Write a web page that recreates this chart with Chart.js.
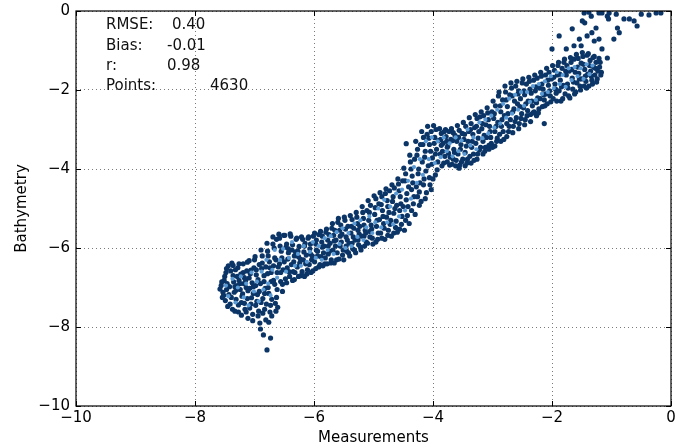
<!DOCTYPE html>
<html>
<head>
<meta charset="utf-8">
<script src="https://cdn.jsdelivr.net/npm/chart.js@4.4.1/dist/chart.umd.min.js"></script>
<style>
html,body{margin:0;padding:0;background:#fff;}
#wrap{width:675px;height:447px;}
</style>
</head>
<body>
<div id="wrap"><canvas id="chart" width="675" height="447"></canvas></div>
<script>
// axis ticks
const xTicks = [-10, -8, -6, -4, -2, 0];
const yTicks = [-10, -8, -6, -4, -2, 0];

// stats box
const statNames = ['RMSE:', 'Bias:', 'r:', 'Points:'];
const statValues = ['0.40', '-0.01', '0.98', '4630'];

const westCluster = [
  [-7.56,-6.95],[-7.53,-7.12],[-7.51,-6.82],[-7.54,-7.25],
  [-7.48,-6.62],[-7.46,-6.9],[-7.43,-7.18],[-7.41,-7.42],[-7.47,-7.05],[-7.44,-6.45],
  [-7.38,-6.38],[-7.36,-6.7],[-7.33,-6.98],[-7.31,-7.3],[-7.37,-7.55],[-7.34,-7.12],[-7.32,-6.55],
  [-7.28,-6.5],[-7.26,-6.82],[-7.24,-7.05],[-7.22,-7.38],[-7.27,-7.62],[-7.23,-6.66],[-7.21,-7.22],[-7.29,-6.95],
  [-7.19,-6.4],[-7.17,-6.75],[-7.14,-7.0],[-7.12,-7.28],[-7.16,-7.55],[-7.11,-7.78],[-7.18,-6.9],[-7.13,-6.58],
  [-7.09,-6.32],[-7.07,-6.65],[-7.04,-6.88],[-7.02,-7.15],[-7.06,-7.42],[-7.03,-7.68],[-7.01,-6.5],[-7.08,-7.02],
  [-6.99,-6.22],[-6.97,-6.55],[-6.94,-6.8],[-6.92,-7.1],[-6.96,-7.35],[-6.93,-7.6],[-6.91,-7.9],[-6.98,-6.95],
  [-6.89,-6.05],[-6.87,-6.38],[-6.84,-6.7],[-6.82,-7.02],[-6.86,-7.28],[-6.83,-7.55],[-6.81,-7.82],[-6.88,-6.52],[-6.85,-8.2],
  [-6.73,-8.28],[-6.79,-8.58],
  [-6.79,-5.88],[-6.77,-6.2],[-6.74,-6.5],[-6.72,-6.85],[-6.76,-7.15],[-6.73,-7.45],[-6.71,-7.72],[-6.78,-6.65],
  [-6.69,-5.72],[-6.67,-6.0],[-6.64,-6.3],[-6.62,-6.62],[-6.66,-6.92],[-6.63,-7.25],[-6.61,-7.5],[-6.68,-6.45],
  [-7.58,-7.04],[-7.55,-6.86],[-7.52,-7.2],[-7.5,-6.72],[-7.49,-7.33],[-7.47,-6.52],[-7.45,-7.48],[-7.42,-6.98],
  [-7.4,-6.58],[-7.39,-7.25],[-7.36,-6.44],[-7.35,-6.86],[-7.33,-7.6],[-7.31,-7.07],[-7.29,-6.72],[-7.27,-7.44],
  [-7.26,-6.4],[-7.24,-6.9],[-7.22,-7.7],[-7.2,-7.16],[-7.19,-6.62],[-7.17,-7.4],[-7.15,-6.82],[-7.14,-7.62],
  [-7.12,-6.36],[-7.11,-7.08],[-7.09,-6.76],[-7.08,-7.52],[-7.06,-6.56],[-7.05,-7.26],[-7.03,-7.84],[-7.02,-6.98],
  [-7.0,-6.3],[-6.98,-7.45],[-6.97,-6.68],[-6.95,-7.18],[-6.94,-7.72],[-6.92,-6.42],[-6.9,-6.9],[-6.89,-7.38],
  [-6.87,-6.2],[-6.86,-7.65],[-6.84,-6.85],[-6.83,-7.15],[-6.81,-6.48],[-6.8,-7.42],[-6.78,-6.08],[-6.77,-7.0],
  [-6.75,-6.35],[-6.74,-7.62],[-6.72,-6.62],[-6.71,-7.3],[-6.69,-5.9],[-6.68,-6.82],[-6.66,-6.25],[-6.65,-7.4],
  [-6.63,-5.78],[-6.62,-7.05],[-6.6,-6.48],[-6.64,-7.6],[-6.76,-7.88],[-6.9,-8.05]
];

const shelfBand = [
  [-6.59,-5.65],[-6.57,-5.95],[-6.54,-6.25],[-6.52,-6.55],[-6.56,-6.85],[-6.53,-7.1],[-6.58,-6.4],
  [-6.49,-5.68],[-6.47,-5.98],[-6.44,-6.28],[-6.42,-6.6],[-6.46,-6.88],[-6.43,-6.12],
  [-6.39,-5.7],[-6.37,-6.05],[-6.34,-6.35],[-6.32,-6.62],[-6.36,-6.82],[-6.33,-6.2],
  [-6.29,-5.75],[-6.27,-6.08],[-6.24,-6.38],[-6.22,-6.7],[-6.26,-6.22],
  [-6.19,-5.78],[-6.17,-6.1],[-6.14,-6.4],[-6.12,-6.66],[-6.16,-5.95],
  [-6.09,-5.72],[-6.07,-6.02],[-6.04,-6.3],[-6.02,-6.58],[-6.06,-6.15],
  [-5.99,-5.62],[-5.97,-5.9],[-5.94,-6.2],[-5.92,-6.48],[-5.96,-6.05],
  [-5.89,-5.58],[-5.87,-5.85],[-5.84,-6.12],[-5.82,-6.4],[-5.86,-5.98],
  [-5.79,-5.52],[-5.77,-5.8],[-5.74,-6.08],[-5.72,-6.38],[-5.76,-5.95],
  [-5.69,-5.38],[-5.67,-5.68],[-5.64,-5.95],[-5.62,-6.3],[-5.66,-5.82],
  [-5.59,-5.25],[-5.57,-5.55],[-5.54,-5.85],[-5.52,-6.18],[-5.56,-5.7],
  [-5.49,-5.22],[-5.47,-5.52],[-5.44,-5.8],[-5.42,-6.12],[-5.46,-5.95],
  [-5.39,-5.18],[-5.37,-5.45],[-5.34,-5.72],[-5.32,-6.05],[-5.36,-5.88],
  [-5.29,-5.1],[-5.27,-5.38],[-5.24,-5.65],[-5.22,-5.98],[-5.26,-5.8],
  [-5.19,-4.95],[-5.17,-5.25],[-5.14,-5.55],[-5.12,-5.85],[-5.16,-5.7],
  [-5.09,-4.8],[-5.07,-5.1],[-5.04,-5.42],[-5.02,-5.75],[-5.06,-5.58],
  [-6.58,-5.75],[-6.56,-6.62],[-6.55,-6.08],[-6.53,-6.92],[-6.51,-5.68],[-6.5,-6.35],[-6.48,-6.78],[-6.46,-5.9],
  [-6.45,-6.5],[-6.43,-6.02],[-6.41,-6.72],[-6.4,-5.64],[-6.38,-6.42],[-6.36,-5.92],[-6.35,-6.6],[-6.33,-6.8],
  [-6.31,-6.1],[-6.3,-5.78],[-6.28,-6.48],[-6.26,-6.72],[-6.25,-5.96],[-6.23,-6.28],[-6.21,-5.72],[-6.2,-6.6],
  [-6.18,-6.3],[-6.16,-6.72],[-6.15,-5.88],[-6.13,-6.18],[-6.11,-6.55],[-6.1,-5.75],[-6.08,-6.42],[-6.06,-5.9],
  [-6.05,-6.62],[-6.03,-6.2],[-6.01,-5.7],[-5.99,-6.35],[-5.97,-6.52],[-5.96,-5.8],[-5.94,-6.08],[-5.92,-5.66],
  [-5.9,-6.42],[-5.88,-6.22],[-5.86,-5.7],[-5.85,-6.45],[-5.83,-5.95],[-5.81,-6.25],[-5.8,-5.6],[-5.78,-6.4],
  [-5.76,-6.15],[-5.75,-5.66],[-5.73,-5.88],[-5.71,-6.3],[-5.7,-5.5],[-5.68,-6.05],[-5.66,-6.38],[-5.65,-5.55],
  [-5.63,-5.8],[-5.61,-6.12],[-5.6,-5.35],[-5.58,-6.28],[-5.56,-5.95],[-5.55,-5.42],[-5.53,-5.65],[-5.51,-6.05],
  [-5.5,-6.3],[-5.48,-5.3],[-5.46,-5.72],[-5.45,-6.08],[-5.43,-5.45],[-5.41,-5.88],[-5.4,-6.2],[-5.38,-5.62],
  [-5.36,-5.28],[-5.35,-6.02],[-5.33,-5.5],[-5.31,-5.8],[-5.3,-6.12],[-5.28,-5.22],[-5.26,-5.55],[-5.25,-5.92],
  [-5.23,-5.45],[-5.21,-6.05],[-5.2,-5.7],[-5.18,-5.1],[-5.16,-5.42],[-5.15,-5.95],[-5.13,-5.62],[-5.11,-5.05],
  [-5.1,-5.88],[-5.08,-5.3],[-5.06,-5.72],[-5.05,-4.92],[-5.03,-5.52],[-5.01,-5.9]
];

const stepBand = [
  [-4.99,-4.68],[-4.97,-4.98],[-4.94,-5.3],[-4.92,-5.62],[-4.96,-5.85],
  [-4.89,-4.6],[-4.87,-4.9],[-4.84,-5.2],[-4.82,-5.5],[-4.86,-5.75],
  [-4.79,-4.5],[-4.77,-4.8],[-4.74,-5.1],[-4.72,-5.4],[-4.76,-5.68],
  [-4.69,-4.4],[-4.67,-4.7],[-4.64,-5.0],[-4.62,-5.32],[-4.66,-5.62],
  [-4.59,-4.25],[-4.57,-4.55],[-4.54,-4.88],[-4.52,-5.2],[-4.56,-5.52],
  [-4.49,-3.98],[-4.47,-4.3],[-4.44,-4.62],[-4.42,-4.95],[-4.46,-5.3],[-4.45,-3.36],
  [-4.39,-3.65],[-4.37,-4.0],[-4.34,-4.35],[-4.32,-4.7],[-4.36,-5.05],
  [-4.29,-3.3],[-4.27,-3.65],[-4.24,-4.0],[-4.22,-4.35],[-4.26,-4.7],[-4.23,-4.92],
  [-4.19,-3.05],[-4.17,-3.38],[-4.14,-3.7],[-4.12,-4.05],[-4.16,-4.4],[-4.13,-4.75],
  [-4.09,-2.92],[-4.07,-3.22],[-4.04,-3.55],[-4.02,-3.88],[-4.06,-4.22],[-4.03,-4.52],
  [-3.99,-2.9],[-3.97,-3.2],[-3.94,-3.5],[-3.92,-3.82],[-3.96,-4.15],
  [-4.98,-5.15],[-4.96,-4.75],[-4.95,-5.45],[-4.93,-5.78],[-4.91,-4.88],[-4.9,-5.28],[-4.88,-5.62],[-4.86,-4.7],
  [-4.85,-5.05],[-4.83,-5.38],[-4.81,-5.78],[-4.8,-4.62],[-4.78,-5.22],[-4.76,-4.95],[-4.75,-5.55],[-4.73,-4.55],
  [-4.71,-5.3],[-4.7,-5.7],[-4.68,-4.82],[-4.66,-5.12],[-4.65,-4.48],[-4.63,-5.48],[-4.61,-4.92],[-4.6,-5.6],
  [-4.58,-4.38],[-4.56,-5.05],[-4.55,-4.7],[-4.53,-5.4],[-4.51,-4.3],[-4.5,-4.95],[-4.48,-5.55],[-4.46,-4.12],
  [-4.45,-4.78],[-4.43,-5.18],[-4.41,-4.45],[-4.4,-5.38],[-4.38,-3.82],[-4.36,-4.52],[-4.35,-4.18],[-4.33,-4.88],
  [-4.31,-3.75],[-4.3,-5.15],[-4.28,-4.45],[-4.26,-3.5],[-4.25,-4.12],[-4.23,-4.58],[-4.21,-3.38],[-4.2,-4.82],
  [-4.18,-3.82],[-4.16,-3.2],[-4.15,-4.25],[-4.13,-3.55],[-4.11,-4.6],[-4.1,-3.12],[-4.08,-3.92],[-4.06,-3.38],
  [-4.05,-4.4],[-4.03,-3.05],[-4.01,-3.72],[-4.0,-4.25],[-3.98,-3.35],[-3.96,-3.62],[-3.95,-3.0],[-3.93,-4.02],[-3.91,-3.28]
];

const upperBand = [
  [-3.89,-2.98],[-3.87,-3.25],[-3.84,-3.55],[-3.82,-3.85],[-3.86,-3.4],
  [-3.79,-3.0],[-3.77,-3.3],[-3.74,-3.6],[-3.72,-3.9],[-3.76,-3.45],
  [-3.69,-2.98],[-3.67,-3.28],[-3.64,-3.58],[-3.62,-3.92],[-3.66,-3.75],
  [-3.59,-2.9],[-3.57,-3.2],[-3.54,-3.5],[-3.52,-3.82],[-3.56,-3.98],
  [-3.49,-2.82],[-3.47,-3.12],[-3.44,-3.42],[-3.42,-3.75],[-3.46,-3.92],
  [-3.39,-2.7],[-3.37,-3.0],[-3.34,-3.3],[-3.32,-3.62],[-3.36,-3.85],
  [-3.29,-2.62],[-3.27,-2.92],[-3.24,-3.22],[-3.22,-3.52],[-3.26,-3.75],
  [-3.19,-2.55],[-3.17,-2.85],[-3.14,-3.15],[-3.12,-3.45],[-3.16,-3.62],
  [-3.09,-2.45],[-3.07,-2.75],[-3.04,-3.05],[-3.02,-3.35],[-3.06,-3.5],
  [-2.99,-2.28],[-2.97,-2.6],[-2.94,-2.92],[-2.92,-3.22],[-2.96,-3.42],
  [-2.89,-2.05],[-2.87,-2.4],[-2.84,-2.75],[-2.82,-3.05],[-2.86,-3.3],
  [-2.79,-1.9],[-2.77,-2.25],[-2.74,-2.6],[-2.72,-2.92],[-2.76,-3.18],
  [-2.69,-1.82],[-2.67,-2.15],[-2.64,-2.48],[-2.62,-2.8],[-2.66,-3.08],
  [-2.59,-1.78],[-2.57,-2.1],[-2.54,-2.42],[-2.52,-2.72],[-2.56,-2.98],
  [-2.49,-1.72],[-2.47,-2.02],[-2.44,-2.35],[-2.42,-2.65],[-2.46,-2.88],
  [-2.39,-1.68],[-2.37,-1.98],[-2.34,-2.28],[-2.32,-2.58],[-2.36,-2.8],
  [-2.29,-1.62],[-2.27,-1.92],[-2.24,-2.2],[-2.22,-2.48],[-2.26,-2.65],
  [-2.19,-1.55],[-2.17,-1.85],[-2.14,-2.12],[-2.12,-2.4],[-2.13,-2.85],
  [-2.09,-1.45],[-2.07,-1.75],[-2.04,-2.02],[-2.02,-2.3],
  [-1.99,-1.38],[-1.97,-1.68],[-1.94,-1.98],[-1.92,-2.28],
  [-1.89,-1.3],[-1.87,-1.6],[-1.84,-1.92],[-1.82,-2.22],
  [-1.79,-1.22],[-1.77,-1.52],[-1.74,-1.85],[-1.72,-2.15],
  [-1.69,-1.18],[-1.67,-1.48],[-1.64,-1.8],[-1.62,-2.1],
  [-1.59,-1.1],[-1.57,-1.42],[-1.54,-1.72],[-1.52,-2.0],
  [-1.49,-1.05],[-1.47,-1.35],[-1.44,-1.65],[-1.42,-1.95],
  [-1.39,-1.08],[-1.37,-1.38],[-1.34,-1.65],[-1.32,-1.85],
  [-1.29,-1.15],[-1.27,-1.45],[-1.24,-1.72],
  [-1.19,-1.3],[-1.17,-1.55],
  [-3.88,-3.62],[-3.86,-3.1],[-3.85,-3.92],[-3.83,-3.35],[-3.81,-3.05],[-3.8,-3.68],[-3.78,-3.18],[-3.76,-3.82],
  [-3.75,-3.42],[-3.73,-3.05],[-3.71,-3.7],[-3.7,-3.25],[-3.68,-3.88],[-3.66,-3.08],[-3.65,-3.5],[-3.63,-3.15],
  [-3.61,-3.78],[-3.6,-3.3],[-3.58,-3.62],[-3.56,-3.02],[-3.55,-3.9],[-3.53,-3.38],[-3.51,-3.1],[-3.5,-3.75],
  [-3.48,-3.25],[-3.46,-3.58],[-3.45,-2.92],[-3.43,-3.85],[-3.41,-3.3],[-3.4,-3.05],[-3.38,-3.68],[-3.36,-2.85],
  [-3.35,-3.45],[-3.33,-3.12],[-3.31,-3.78],[-3.3,-2.95],[-3.28,-3.35],[-3.26,-2.72],[-3.25,-3.62],[-3.23,-3.05],
  [-3.21,-2.68],[-3.2,-3.45],[-3.18,-2.98],[-3.16,-3.3],[-3.15,-2.65],[-3.13,-3.55],[-3.11,-2.88],[-3.1,-3.2],
  [-3.08,-2.58],[-3.06,-3.4],[-3.05,-2.92],[-3.03,-3.2],[-3.01,-2.55],[-3.0,-3.45],[-2.98,-2.72],[-2.96,-3.05],
  [-2.95,-2.4],[-2.93,-3.3],[-2.91,-2.82],[-2.9,-2.15],[-2.88,-3.12],[-2.86,-2.55],[-2.85,-2.92],[-2.83,-2.25],
  [-2.81,-3.25],[-2.8,-2.65],[-2.78,-2.05],[-2.76,-2.85],[-2.75,-2.42],[-2.73,-3.05],[-2.71,-2.12],[-2.7,-2.75],
  [-2.68,-1.95],[-2.66,-2.55],[-2.65,-2.92],[-2.63,-2.28],[-2.61,-1.9],[-2.6,-2.7],[-2.58,-2.35],[-2.56,-2.02],
  [-2.55,-2.85],[-2.53,-2.22],[-2.51,-2.6],[-2.5,-1.82],[-2.48,-2.45],[-2.46,-2.12],[-2.45,-2.75],[-2.43,-1.85],
  [-2.41,-2.52],[-2.4,-2.28],[-2.38,-1.78],[-2.36,-2.62],[-2.35,-2.08],[-2.33,-2.4],[-2.31,-1.75],[-2.3,-2.55],
  [-2.28,-2.02],[-2.26,-2.32],[-2.25,-1.7],[-2.23,-2.58],[-2.21,-1.95],[-2.2,-2.22],[-2.18,-1.65],[-2.16,-2.42],
  [-2.15,-1.98],[-2.13,-2.25],[-2.11,-1.62],[-2.1,-2.1],[-2.08,-2.35],[-2.06,-1.88],[-2.05,-1.55],[-2.03,-2.15],
  [-2.01,-1.72],[-1.98,-2.22],[-1.96,-1.5],[-1.95,-1.85],[-1.93,-2.08],[-1.91,-1.62],[-1.9,-1.38],[-1.88,-2.02],
  [-1.86,-1.75],[-1.85,-2.28],[-1.83,-1.45],[-1.81,-1.88],[-1.8,-1.3],[-1.78,-2.1],[-1.76,-1.62],[-1.75,-1.38],
  [-1.73,-1.95],[-1.71,-1.52],[-1.7,-2.2],[-1.68,-1.3],[-1.66,-1.7],[-1.65,-1.98],[-1.63,-1.22],[-1.61,-1.55],
  [-1.6,-2.05],[-1.58,-1.82],[-1.56,-1.2],[-1.55,-1.58],[-1.53,-1.9],[-1.51,-1.32],[-1.5,-1.72],[-1.48,-1.15],
  [-1.46,-1.9],[-1.45,-1.48],[-1.43,-1.78],[-1.41,-1.12],[-1.4,-1.6],[-1.38,-1.9],[-1.36,-1.25],[-1.35,-1.52],
  [-1.33,-1.75],[-1.31,-1.18],[-1.3,-1.42],[-1.28,-1.62],[-1.26,-1.3],[-1.25,-1.8],[-1.23,-1.52],[-1.21,-1.2],
  [-1.2,-1.42],[-1.18,-1.62]
];

const nearShore = [
  [-2.0,-0.96],[-1.88,-0.63],[-1.76,-0.96],[-1.66,-0.45],[-1.63,-0.88],[-1.54,-0.71],[-1.51,-0.88],
  [-1.49,-0.25],[-1.46,-0.05],[-1.45,-0.3],[-1.41,-0.63],[-1.38,-0.03],[-1.34,-0.13],[-1.33,-0.55],
  [-1.29,-0.76],[-1.26,-0.43],[-1.21,-0.71],[-1.21,-0.05],[-1.16,-0.05],[-1.16,-0.96],[-1.07,-0.13],
  [-1.07,-1.19],[-1.05,-0.2],[-1.04,-0.05],[-0.96,-0.71],[-0.92,-0.08],[-0.9,-0.43],[-0.87,-0.55],
  [-0.79,-0.2],[-0.7,-0.2],[-0.62,-0.25],[-0.57,-0.38],[-0.5,-0.08],[-0.37,-0.1],[-0.25,-0.05],[-0.17,-0.05]
];

// lighter points showing through the dense core
const lightPts = [
  [-7.48,-6.95],[-7.44,-7.22],[-7.37,-6.78],[-7.32,-7.38],[-7.28,-7.0],[-7.23,-6.72],[-7.18,-7.25],[-7.14,-6.9],
  [-7.1,-7.45],[-7.05,-6.62],[-7.01,-7.1],[-6.96,-6.85],[-6.93,-7.35],[-6.88,-6.6],[-6.85,-7.05],[-6.8,-6.3],
  [-6.77,-6.9],[-6.73,-7.2],[-6.7,-6.55],[-6.66,-6.05],[-6.62,-6.75],
  [-6.57,-6.3],[-6.52,-6.02],[-6.47,-6.6],[-6.42,-6.25],[-6.37,-5.85],[-6.32,-6.45],[-6.27,-6.15],[-6.22,-6.45],
  [-6.17,-5.95],[-6.12,-6.35],[-6.07,-6.1],[-6.02,-5.85],[-5.97,-6.25],[-5.92,-5.95],[-5.87,-6.3],[-5.82,-5.75],
  [-5.77,-6.05],[-5.72,-5.7],[-5.67,-6.15],[-5.62,-5.6],[-5.57,-5.9],[-5.52,-5.5],[-5.47,-6.0],[-5.42,-5.62],
  [-5.37,-5.95],[-5.32,-5.38],[-5.27,-5.72],[-5.22,-5.3],[-5.17,-5.8],[-5.12,-5.48],[-5.07,-5.2],[-5.02,-5.62],
  [-4.97,-5.35],[-4.92,-5.0],[-4.87,-5.48],[-4.82,-4.78],[-4.77,-5.35],[-4.72,-4.95],[-4.67,-5.4],[-4.62,-4.62],
  [-4.57,-5.2],[-4.52,-4.52],[-4.47,-5.05],[-4.42,-4.3],[-4.37,-4.75],[-4.32,-3.95],[-4.27,-4.35],[-4.22,-3.75],
  [-4.17,-4.15],[-4.12,-3.3],[-4.07,-3.75],[-4.02,-3.2],[-3.97,-3.85],
  [-3.92,-3.3],[-3.87,-3.7],[-3.82,-3.2],[-3.77,-3.55],[-3.72,-3.35],[-3.67,-3.68],[-3.62,-3.2],[-3.57,-3.55],
  [-3.52,-3.28],[-3.47,-3.62],[-3.42,-3.0],[-3.37,-3.4],[-3.32,-3.2],[-3.27,-3.5],[-3.22,-2.82],[-3.17,-3.22],
  [-3.12,-2.75],[-3.07,-3.1],[-3.02,-2.65],[-2.97,-2.95],[-2.92,-2.5],[-2.87,-2.85],[-2.82,-2.35],[-2.77,-2.7],
  [-2.72,-2.22],[-2.67,-2.6],[-2.62,-2.12],[-2.57,-2.5],[-2.52,-2.05],[-2.47,-2.4],[-2.42,-2.05],[-2.37,-2.3],
  [-2.32,-1.9],[-2.27,-2.25],[-2.22,-1.85],[-2.17,-2.1],[-2.12,-1.78],[-2.07,-2.05],[-2.02,-1.65],[-1.97,-1.95],
  [-1.92,-1.55],[-1.87,-1.85],[-1.82,-1.62],[-1.77,-1.92],[-1.72,-1.45],[-1.67,-1.75],[-1.62,-1.42],[-1.57,-1.65],
  [-1.52,-1.45],[-1.47,-1.72],[-1.42,-1.35],[-1.37,-1.6],[-1.32,-1.38]
];

const toXY = arr => arr.map(p => ({x: p[0], y: p[1]}));
const darkPts = [...westCluster, ...shelfBand, ...stepBand, ...upperBand, ...nearShore];

const FONT = 'DejaVu Sans';
const minus = v => v < 0 ? '\u2212' + Math.abs(v) : String(v);

// box frame, inward ticks, stats text
const framePlugin = {
  id: 'frame',
  afterDatasetsDraw(chart) {
    const {ctx, chartArea: a, scales} = chart;
    ctx.save();
    ctx.strokeStyle = '#000';
    ctx.lineWidth = 1.2;
    ctx.strokeRect(a.left, a.top, a.right - a.left, a.bottom - a.top);
    ctx.lineWidth = 1;
    ctx.beginPath();
    xTicks.forEach(v => {
      const px = Math.round(scales.x.getPixelForValue(v)) + 0.5;
      ctx.moveTo(px, a.bottom); ctx.lineTo(px, a.bottom - 5);
      ctx.moveTo(px, a.top); ctx.lineTo(px, a.top + 5);
    });
    yTicks.forEach(v => {
      const py = Math.round(scales.y.getPixelForValue(v)) + 0.5;
      ctx.moveTo(a.left, py); ctx.lineTo(a.left + 5, py);
      ctx.moveTo(a.right, py); ctx.lineTo(a.right - 5, py);
    });
    ctx.stroke();

    ctx.fillStyle = '#111';
    ctx.font = '15px "' + FONT + '"';
    ctx.textBaseline = 'middle';
    const rowY = [25, 46, 66, 86];
    const valX = [172, 167, 167, 210];
    statNames.forEach((s, i) => {
      ctx.fillText(s, 106, rowY[i]);
      ctx.fillText(statValues[i], valX[i], rowY[i]);
    });
    ctx.restore();
  }
};

new Chart(document.getElementById('chart'), {
  type: 'scatter',
  data: {
    datasets: [
      // first dataset is painted last, so the light core dots sit on top
      {
        label: 'core',
        data: toXY(lightPts),
        backgroundColor: '#5b9bd5',
        pointRadius: 2.1,
        borderWidth: 0
      },
      {
        label: 'points',
        data: toXY(darkPts),
        backgroundColor: '#0b3566',
        pointRadius: 2.6,
        borderWidth: 0
      }
    ]
  },
  options: {
    responsive: false,
    animation: false,
    layout: {padding: {top: 11, right: 4, left: 0, bottom: 0}},
    plugins: {legend: {display: false}, tooltip: {enabled: false}},
    scales: {
      x: {
        type: 'linear',
        min: -10, max: 0,
        afterBuildTicks: s => { s.ticks = xTicks.map(v => ({value: v})); },
        afterFit: s => { s.height = 41; s.paddingLeft = 0; s.paddingRight = 0; },
        ticks: {color: '#000', font: {family: FONT, size: 15}, padding: 3, maxRotation: 0, callback: minus},
        grid: {color: '#7a7a7a', drawTicks: false},
        border: {display: false, dash: [1, 3]},
        title: {display: true, text: 'Measurements', color: '#000', font: {family: FONT, size: 15}, padding: {top: 0, bottom: 0}}
      },
      y: {
        type: 'linear',
        min: -10, max: 0,
        afterBuildTicks: s => { s.ticks = yTicks.map(v => ({value: v})); },
        afterFit: s => { s.width = 76; s.paddingTop = 0; s.paddingBottom = 0; },
        ticks: {color: '#000', font: {family: FONT, size: 15}, padding: 6, callback: minus},
        grid: {color: '#7a7a7a', drawTicks: false},
        border: {display: false, dash: [1, 3]},
        title: {display: true, text: 'Bathymetry', color: '#000', font: {family: FONT, size: 15}, padding: {top: 13, bottom: 0}}
      }
    }
  },
  plugins: [framePlugin]
});
</script>
</body>
</html>
